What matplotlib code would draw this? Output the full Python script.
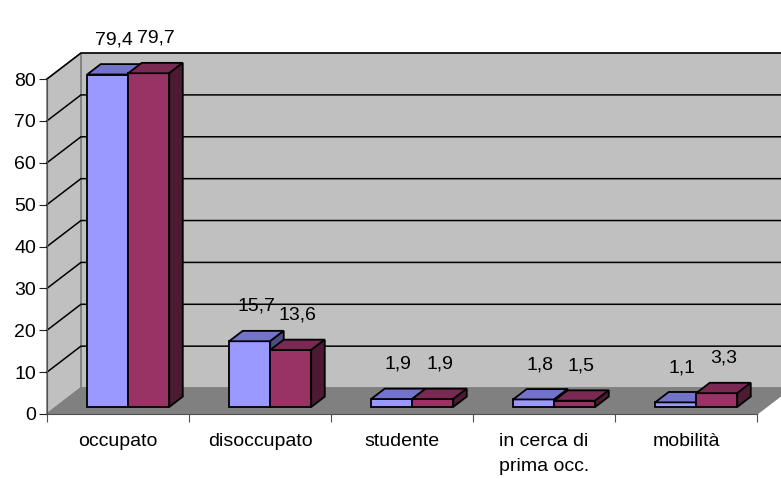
import numpy as np
import matplotlib
matplotlib.use("Agg")
import matplotlib.pyplot as plt
from matplotlib.patches import Polygon

categorie = ["occupato", "disoccupato", "studente", "in cerca di\nprima occ.", "mobilità"]
serie_a = [79.4, 15.7, 1.9, 1.8, 1.1]
serie_b = [79.7, 13.6, 1.9, 1.5, 3.3]
etichette_a = ["79,4", "15,7", "1,9", "1,8", "1,1"]
etichette_b = ["79,7", "13,6", "1,9", "1,5", "3,3"]
y_ticks = [0, 10, 20, 30, 40, 50, 60, 70, 80]

plt.rcParams['font.family'] = ['Liberation Sans', 'DejaVu Sans']

# profondita' della finta prospettiva (unita' dati)
DX = 0.239
DY = 6.2
F0, F1 = 0.27, 0.67
GAP = 0.218
W = 0.289
FS = 14

fig = plt.figure(figsize=(7.81, 4.79), dpi=100)
ax = fig.add_axes([47/781, 65/479, 710/781, 335/479])
n = len(categorie)
ymax = y_ticks[-1]
ax.set_xlim(0, n)
ax.set_ylim(0, ymax)

# pareti e pavimento
ax.add_patch(Polygon([(DX, DY), (n+DX, DY), (n+DX, ymax+DY), (DX, ymax+DY)],
                     closed=True, fc='#c0c0c0', ec='#808080', lw=1.2, clip_on=False, zorder=1))
ax.add_patch(Polygon([(0, 0), (DX, DY), (DX, ymax+DY), (0, ymax)],
                     closed=True, fc='#c0c0c0', ec='#808080', lw=1.2, clip_on=False, zorder=1))
ax.add_patch(Polygon([(0, 0), (n, 0), (n+DX, DY), (DX, DY)],
                     closed=True, fc='#808080', ec='#808080', lw=1, clip_on=False, zorder=1))
for v in y_ticks[1:]:
    ax.plot([0, DX, n+DX], [v, v+DY, v+DY], color='black', lw=1.1, clip_on=False, zorder=2)

colori = [('#9999ff', '#7373cc', '#4d4d80'), ('#993366', '#7a2952', '#4d1a33')]
ddx = (F1-F0)*DX
ddy = (F1-F0)*DY
base = F0*DY

def barra(x0, v, col):
    x1 = x0 + W
    top = base + v
    front = [(x0, base), (x1, base), (x1, top), (x0, top)]
    cima = [(x0, top), (x1, top), (x1+ddx, top+ddy), (x0+ddx, top+ddy)]
    lato = [(x1, base), (x1, top), (x1+ddx, top+ddy), (x1+ddx, base+ddy)]
    for pts, c in [(front, col[0]), (cima, col[1]), (lato, col[2])]:
        ax.add_patch(Polygon(pts, closed=True, fc=c, ec='black', lw=1.3,
                             joinstyle='miter', clip_on=False, zorder=3))

for i in range(n):
    for s, (vals, labs) in enumerate([(serie_a, etichette_a), (serie_b, etichette_b)]):
        x0 = i + GAP + F0*DX + s*W
        barra(x0, vals[i], colori[s])
        ax.text(x0 + W/2 + ddx/2, vals[i] + base + 8.3, labs[i], ha='center', va='center',
                fontsize=FS, zorder=4, clip_on=False)

for sp in ['top', 'right']:
    ax.spines[sp].set_visible(False)
for sp in ['left', 'bottom']:
    ax.spines[sp].set_color('#505050')
    ax.spines[sp].set_zorder(2)
ax.patch.set_visible(False)

ax.set_yticks(y_ticks)
ax.set_yticklabels([str(v) for v in y_ticks], fontsize=FS)
ax.tick_params(axis='y', length=6, color='#202020', pad=2)
ax.set_xticks(np.arange(n+1))
ax.set_xticklabels([])
ax.tick_params(axis='x', which='major', length=6, color='#505050')
ax.set_xticks(np.arange(n) + 0.5, minor=True)
ax.set_xticklabels(categorie, minor=True, fontsize=FS, linespacing=1.6, va='top')
ax.tick_params(axis='x', which='minor', length=0, pad=14)

fig.savefig("out.png", dpi=100)
